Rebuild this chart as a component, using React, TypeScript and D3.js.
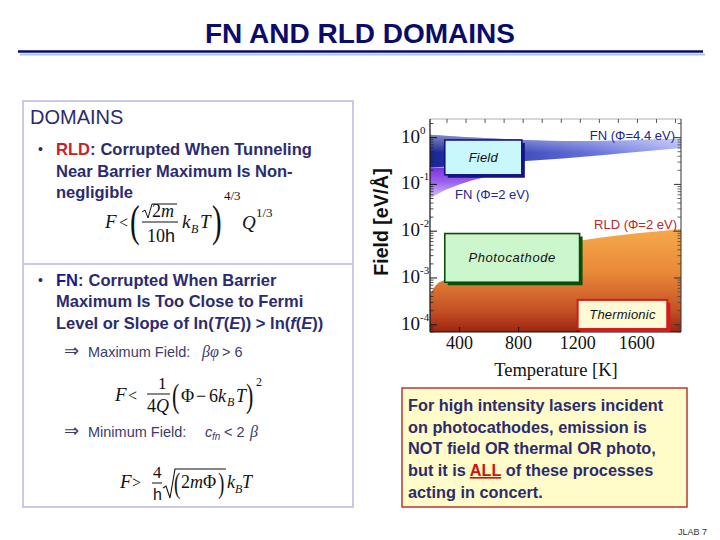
import React from 'react';
import * as d3 from 'd3';

// axis values
const tempTicks = [400, 800, 1200, 1600];
const decadeTicks = [1e-4, 1e-3, 1e-2, 1e-1, 1e0];
const decadeExps = ['-4', '-3', '-2', '-1', '0'];

// FN (phi = 4.4 eV) band, field in eV/A
const fn44Temps = [200, 400, 600, 800, 1000, 1200, 1400, 1600, 1900];
const fn44Upper = [1.15, 1.05, 0.97, 0.9, 0.86, 0.85, 0.86, 0.89, 0.94];
const fn44Lower = [0.23, 0.25, 0.28, 0.31, 0.34, 0.38, 0.43, 0.49, 0.6];

// FN (phi = 2 eV) band
const fn2Temps = [200, 300, 400, 500, 600, 700, 800];
const fn2Upper = [0.23, 0.23, 0.235, 0.24, 0.24, 0.235, 0.23];
const fn2Lower = [0.05, 0.075, 0.1, 0.125, 0.15, 0.18, 0.22];

// RLD (phi = 2 eV) upper limit
const rldTemps = [200, 250, 300, 400, 600, 800, 1000, 1200, 1400, 1600, 1900];
const rldUpper = [4.5e-4, 7.5e-4, 9e-4, 1.4e-3, 2.4e-3, 3.5e-3, 4.8e-3, 6.2e-3, 7.6e-3, 9e-3, 1.12e-2];

// domain boxes
const boxLabels = ['Field', 'Photocathode', 'Thermionic'];
const boxT0 = [300, 300, 1200];
const boxT1 = [822, 1213, 1807];
const boxFTop = [0.89, 8.9e-3, 3.4e-4];
const boxFBottom = [0.16, 8.1e-4, 8.1e-5];

const sans = "'Liberation Sans', Arial, Helvetica, sans-serif";
const serif = "'Liberation Serif', 'Times New Roman', serif";
const navy = '#2b2b6e';
const slate = '#3c3c6c';

function Chart() {
  const x = d3.scaleLinear().domain([200, 1900]).range([430, 681]);
  const y = d3.scaleLog().domain([7e-5, 2.5]).range([332, 119]);
  const [x0, x1] = x.range();
  const [yb, yt] = y.range();

  const band = (ts: number[], lo: number[], hi: number[]) =>
    d3.area<number>()
      .x(t => x(t))
      .y0((_, i) => y(lo[i]))
      .y1((_, i) => y(hi[i]))
      .curve(d3.curveMonotoneX)(ts) as string;

  const rldPath = d3.area<number>()
    .x(t => x(t))
    .y0(yb)
    .y1((_, i) => y(rldUpper[i]))
    .curve(d3.curveMonotoneX)(rldTemps) as string;

  const minorF = d3.range(-5, 1)
    .flatMap(e => d3.range(2, 10).map(k => k * 10 ** e))
    .filter(v => v > 7e-5 && v < 2.5);
  const topTicks = d3.range(315, 1900, 129);

  const boxStyle = [
    { fill: '#c8f7fc', stroke: '#141480' },
    { fill: '#ccf6cc', stroke: '#0b4d0b' },
    { fill: '#fefad6', stroke: '#d41a1a' },
  ];

  return (
    <g>
      <defs>
        <clipPath id="plotClip">
          <rect x={x0} y={yt} width={x1 - x0} height={yb - yt} />
        </clipPath>
        <linearGradient id="fn44Grad" gradientUnits="userSpaceOnUse" x1={x0} y1={0} x2={x1} y2={0}>
          <stop offset="0" stopColor="#1a2690" />
          <stop offset="0.3" stopColor="#3544b8" />
          <stop offset="0.65" stopColor="#6673da" />
          <stop offset="1" stopColor="#a9b0f2" />
        </linearGradient>
        <linearGradient id="fn44Shine" x1="0" y1="0" x2="0" y2="1">
          <stop offset="0" stopColor="#ffffff" stopOpacity="0.45" />
          <stop offset="0.55" stopColor="#ffffff" stopOpacity="0" />
        </linearGradient>
        <linearGradient id="fn2Grad" x1="0" y1="0" x2="0" y2="1">
          <stop offset="0" stopColor="#7a2ee0" />
          <stop offset="0.5" stopColor="#9a66ec" />
          <stop offset="1" stopColor="#d8ccfa" />
        </linearGradient>
        <linearGradient id="rldGrad" gradientUnits="userSpaceOnUse" x1={0} y1={225} x2={0} y2={yb}>
          <stop offset="0" stopColor="#f8ac4c" />
          <stop offset="0.45" stopColor="#e88838" />
          <stop offset="0.8" stopColor="#c45024" />
          <stop offset="1" stopColor="#9c2410" />
        </linearGradient>
      </defs>

      <g clipPath="url(#plotClip)">
        <path d={rldPath} fill="url(#rldGrad)" />
        <path d={band(fn2Temps, fn2Lower, fn2Upper)} fill="url(#fn2Grad)" />
        <path d={band(fn44Temps, fn44Lower, fn44Upper)} fill="url(#fn44Grad)" />
        <path d={band(fn44Temps, fn44Lower, fn44Upper)} fill="url(#fn44Shine)" />
      </g>

      {/* frame and ticks */}
      <line x1={x0} x2={x1} y1={yt} y2={yt} stroke="#9a9a9a" strokeWidth={0.8} />
      <line x1={x0} x2={x0} y1={yt} y2={yb} stroke="#111" strokeWidth={1.2} />
      <line x1={x0} x2={x1} y1={yb} y2={yb} stroke="#111" strokeWidth={1.2} />
      <line x1={x1} x2={x1} y1={yt} y2={yb} stroke="#333" strokeWidth={1} />
      {decadeTicks.map(v => (
        <g key={'M' + v}>
          <line x1={x0} x2={x0 + 7} y1={y(v)} y2={y(v)} stroke="#111" />
          <line x1={x1} x2={x1 - 7} y1={y(v)} y2={y(v)} stroke="#333" />
        </g>
      ))}
      {minorF.map(v => (
        <g key={'m' + v}>
          <line x1={x0} x2={x0 + 3.5} y1={y(v)} y2={y(v)} stroke="#222" strokeWidth={0.8} />
          <line x1={x1} x2={x1 - 3.5} y1={y(v)} y2={y(v)} stroke="#444" strokeWidth={0.8} />
        </g>
      ))}
      {tempTicks.map(t => (
        <line key={'b' + t} x1={x(t)} x2={x(t)} y1={yb} y2={yb - 5} stroke="#111" />
      ))}
      {topTicks.map(t => (
        <line key={'t' + t} x1={x(t)} x2={x(t)} y1={yt} y2={yt + 4} stroke="#444" strokeWidth={0.9} />
      ))}

      {/* tick labels */}
      {decadeTicks.map((v, i) => (
        <text key={'yl' + v} x={401} y={y(v) + 5} fontFamily={serif} fontSize={19} fill="#111">
          10<tspan fontSize={11} dy={-9}>{decadeExps[i]}</tspan>
        </text>
      ))}
      {tempTicks.map(t => (
        <text key={'xl' + t} x={x(t)} y={349} textAnchor="middle" fontFamily={serif} fontSize={18} fill="#111">{t}</text>
      ))}
      <text x={556} y={376} textAnchor="middle" fontFamily={serif} fontSize={18.5} fill="#111">Temperature [K]</text>
      <text transform="translate(388,222) rotate(-90)" textAnchor="middle" fontFamily={sans} fontWeight="bold" fontSize={19.5} fill="#111">Field [eV/Å]</text>

      {/* region boxes */}
      {boxLabels.map((label, i) => {
        const bx = x(boxT0[i]);
        const bw = x(boxT1[i]) - bx;
        const by = y(boxFTop[i]);
        const bh = y(boxFBottom[i]) - by;
        const s = boxStyle[i];
        return (
          <g key={label}>
            <rect x={bx} y={by} width={bw} height={bh} fill={s.fill} stroke={s.stroke} strokeWidth={i === 2 ? 2 : 1.6} />
            <path d={`M${bx + bw + 1.5},${by + 3} V${by + bh + 1.5} H${bx + 3}`} fill="none" stroke={s.stroke} strokeWidth={3} />
            <text x={bx + bw / 2} y={by + bh / 2 + 4.5} textAnchor="middle" fontFamily={sans} fontStyle="italic" fontSize={13} letterSpacing={i === 1 ? 0.6 : 0.2} fill="#111">{label}</text>
          </g>
        );
      })}

      {/* curve labels */}
      <text x={675} y={y(1.08) + 4} textAnchor="end" fontFamily={sans} fontSize={13} fill="#24248a">FN (Φ=4.4 eV)</text>
      <text x={455} y={y(0.061) + 5} fontFamily={sans} fontSize={13} fill="#24248a">FN (Φ=2 eV)</text>
      <text x={677} y={y(0.0143) + 5} textAnchor="end" fontFamily={sans} fontSize={13} fill="#b52a2a">RLD (Φ=2 eV)</text>
    </g>
  );
}

function Paren({ x, y, size, ch }: { x: number; y: number; size: number; ch: string }) {
  // tall thin parenthesis: a normal glyph stretched vertically
  return (
    <text transform={`translate(${x},${y}) scale(1,1.5)`} fontSize={size}>{ch}</text>
  );
}

function Formulas() {
  return (
    <g fill="#111" fontFamily={serif}>
      {/* F < ( sqrt(2m)/10h kB T )^(4/3) Q^(1/3) */}
      <text x={105} y={228} fontSize={19} fontStyle="italic">F</text>
      <text x={119} y={228} fontSize={16}>&lt;</text>
      <Paren x={130} y={236} size={29} ch="(" />
      <path d="M142,212 L145,210 L148,218 L152,204 L177,204" fill="none" stroke="#111" strokeWidth={1} />
      <text x={152} y={217} fontSize={18}>2<tspan fontStyle="italic">m</tspan></text>
      <line x1={142} x2={178} y1={222} y2={222} stroke="#111" strokeWidth={1} />
      <text x={147} y={242} fontSize={18}>10<tspan fontFamily={sans}>h</tspan></text>
      <text x={182} y={228} fontSize={19} fontStyle="italic">k</text>
      <text x={191} y={233} fontSize={12} fontStyle="italic">B</text>
      <text x={200} y={228} fontSize={19} fontStyle="italic">T</text>
      <Paren x={212} y={236} size={29} ch=")" />
      <text x={224} y={200} fontSize={13}>4/3</text>
      <text x={242} y={229} fontSize={19} fontStyle="italic">Q</text>
      <text x={256} y={217} fontSize={13}>1/3</text>

      {/* F < 1/(4Q) (Phi - 6 kB T)^2 */}
      <text x={115} y={401} fontSize={19} fontStyle="italic">F</text>
      <text x={128} y={401} fontSize={16}>&lt;</text>
      <text x={158} y={389} fontSize={17}>1</text>
      <line x1={147} x2={170} y1={394} y2={394} stroke="#111" strokeWidth={1} />
      <text x={147} y={412} fontSize={18}>4<tspan fontStyle="italic">Q</tspan></text>
      <Paren x={172} y={407} size={22} ch="(" />
      <text x={181} y={402} fontSize={18}>Φ</text>
      <text x={196} y={402} fontSize={18}>−</text>
      <text x={209} y={402} fontSize={18}>6</text>
      <text x={218} y={402} fontSize={18} fontStyle="italic">k</text>
      <text x={227} y={406} fontSize={12} fontStyle="italic">B</text>
      <text x={236} y={402} fontSize={18} fontStyle="italic">T</text>
      <Paren x={246} y={407} size={22} ch=")" />
      <text x={256} y={386} fontSize={12}>2</text>

      {/* F > 4/h sqrt((2 m Phi)) kB T */}
      <text x={120} y={488} fontSize={19} fontStyle="italic">F</text>
      <text x={132} y={488} fontSize={16}>&gt;</text>
      <text x={153} y={478} fontSize={17}>4</text>
      <line x1={152} x2={162} y1={483} y2={483} stroke="#111" strokeWidth={1} />
      <text x={153} y={500} fontSize={16} fontFamily={sans}>h</text>
      <path d="M163,488 L166,486 L170,498 L175,469 L226,469" fill="none" stroke="#111" strokeWidth={1.1} />
      <Paren x={174} y={493} size={19} ch="(" />
      <text x={181} y={488} fontSize={18}>2<tspan fontStyle="italic">m</tspan>Φ</text>
      <Paren x={218} y={493} size={19} ch=")" />
      <text x={227} y={488} fontSize={18} fontStyle="italic">k</text>
      <text x={235} y={493} fontSize={12} fontStyle="italic">B</text>
      <text x={242} y={488} fontSize={18} fontStyle="italic">T</text>
    </g>
  );
}

function LeftPanel() {
  return (
    <g fontFamily={sans}>
      <rect x={23} y={101} width={330} height={406} fill="#fff" stroke="#cacae8" strokeWidth={2} />
      <line x1={23} x2={353} y1={264} y2={264} stroke="#cacae8" strokeWidth={2} />
      <text x={30} y={124} fontSize={20} fill={navy}>DOMAINS</text>

      <text x={38} y={154} fontSize={14} fill={navy}>•</text>
      <g fontSize={16.5} fontWeight="bold" fill={navy}>
        <text x={56} y={155}><tspan fill="#c8202a">RLD</tspan>:<tspan dx={5}>Corrupted When Tunneling</tspan></text>
        <text x={56} y={177}>Near Barrier Maximum Is Non-</text>
        <text x={56} y={198}>negligible</text>
      </g>

      <text x={38} y={285} fontSize={14} fill={navy}>•</text>
      <g fontSize={16.5} fontWeight="bold" fill={navy}>
        <text x={56} y={286}><tspan fill="#1a1a8c">FN</tspan>:<tspan dx={5}>Corrupted When Barrier</tspan></text>
        <text x={56} y={307}>Maximum Is Too Close to Fermi</text>
        <text x={56} y={329}>Level or Slope of ln(<tspan fontStyle="italic">T</tspan>(<tspan fontStyle="italic">E</tspan>)) &gt; ln(<tspan fontStyle="italic">f</tspan>(<tspan fontStyle="italic">E</tspan>))</text>
      </g>

      <g fontSize={14.5} fill={slate}>
        <text x={64} y={357} fontFamily="'DejaVu Sans', sans-serif" fontSize={18}>⇒</text>
        <text x={88} y={357}>Maximum Field:</text>
        <text x={202} y={357} fontFamily={serif} fontStyle="italic" fontSize={16}>βφ</text>
        <text x={222} y={357}>&gt; 6</text>

        <text x={64} y={437} fontFamily="'DejaVu Sans', sans-serif" fontSize={18}>⇒</text>
        <text x={88} y={437}>Minimum Field:</text>
        <text x={205} y={437} fontStyle="italic">c</text>
        <text x={212} y={440} fontStyle="italic" fontSize={10}>fn</text>
        <text x={224} y={437}>&lt; 2</text>
        <text x={250} y={437} fontFamily={serif} fontStyle="italic" fontSize={16}>β</text>
      </g>
      <Formulas />
    </g>
  );
}

function NoteBox() {
  const lines = [
    'For high intensity lasers incident',
    'on photocathodes, emission is',
    'NOT field OR thermal OR photo,',
  ];
  return (
    <g fontFamily={sans}>
      <rect x={402} y={388} width={285} height={119} fill="#fffcc9" stroke="#b33a3a" strokeWidth={1.5} />
      <g fontSize={16.3} fontWeight="bold" fill={navy}>
        {lines.map((l, i) => (
          <text key={i} x={408} y={411 + i * 21.7}>{l}</text>
        ))}
        <text x={408} y={476}>but it is <tspan fill="#d01010" textDecoration="underline">ALL</tspan> of these processes</text>
        <text x={408} y={498}>acting in concert.</text>
      </g>
    </g>
  );
}

export default function App() {
  return (
    <svg width={720} height={540} style={{ position: 'absolute', left: 0, top: 0, background: '#fff' }}>
      <rect width={720} height={540} fill="#fff" />
      <text x={360} y={43} textAnchor="middle" fontFamily={sans} fontWeight="bold" fontSize={28} fill="#0b0b6b">FN AND RLD DOMAINS</text>
      <line x1={18} x2={703} y1={51.5} y2={51.5} stroke="#0a0a6e" strokeWidth={2.6} />
      <line x1={20} x2={705} y1={54.5} y2={54.5} stroke="#a8c6ee" strokeWidth={2} />
      <LeftPanel />
      <Chart />
      <NoteBox />
      <text x={707} y={535} textAnchor="end" fontFamily={sans} fontSize={9} fill="#333">JLAB 7</text>
    </svg>
  );
}
